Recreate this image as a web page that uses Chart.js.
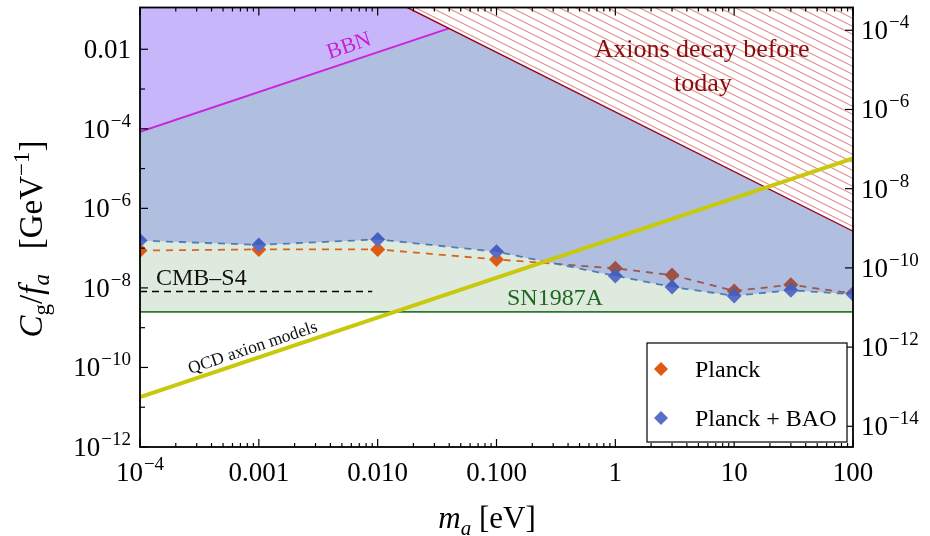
<!DOCTYPE html>
<html>
<head>
<meta charset="utf-8">
<script src="https://cdn.jsdelivr.net/npm/chart.js@4.4.0/dist/chart.umd.min.js"></script>
<style>
html, body { margin: 0; padding: 0; background: #fff; }
</style>
</head>
<body>
<canvas id="myChart" width="930" height="536"></canvas>
<script>
// CMB bounds on C_g/f_a [GeV^-1] vs axion mass [eV]
const massPoints = [1e-4, 1e-3, 1e-2, 0.1, 1, 3, 10, 30, 100];
const planckBound = [8.7e-8, 9.3e-8, 9.3e-8, 5.2e-8, 3.1e-8, 2.1e-8, 8.4e-9, 1.2e-8, 7.2e-9];
const planckBaoBound = [1.55e-7, 1.2e-7, 1.65e-7, 8.1e-8, 2.0e-8, 1.06e-8, 6.3e-9, 8.7e-9, 6.9e-9];

// straight lines on log-log axes, only the end points are needed
const bbnMass = [1e-4, 0.0398];
const bbnBound = [8.4e-5, 0.0335];
const decayMass = [0.0178, 100];
const decayBound = [0.112, 2.66e-7];
const qcdMass = [1e-4, 100];
const qcdLine = [1.8e-11, 1.8e-5];
const snMass = [1e-4, 100];
const snBound = [2.5e-9, 2.5e-9];
const cmbS4Mass = [1e-4, 0.009];
const cmbS4Bound = [8.1e-9, 8.1e-9];

// tick labels, "^" marks an exponent
const xTickValues = [1e-4, 1e-3, 1e-2, 0.1, 1, 10, 100];
const xTickLabels = ['10^\u22124', '0.001', '0.010', '0.100', '1', '10', '100'];
const yTickValues = [1e-12, 1e-10, 1e-8, 1e-6, 1e-4, 1e-2];
const yTickLabels = ['10^\u221212', '10^\u221210', '10^\u22128', '10^\u22126', '10^\u22124', '0.01'];
const y2TickValues = [1e-14, 1e-12, 1e-10, 1e-8, 1e-6, 1e-4];
const y2TickLabels = ['10^\u221214', '10^\u221212', '10^\u221210', '10^\u22128', '10^\u22126', '10^\u22124'];

const serif = "'Liberation Serif', 'Times New Roman', serif";
const planckColor = '#e05a12';
const baoColor = '#5a6ec8';

function pts(xs, ys)
{
    return xs.map((x, i) => ({x: x, y: ys[i]}));
}

function makeHatch()
{
    const c = document.createElement('canvas');
    c.width = 16;
    c.height = 8;
    const g = c.getContext('2d');
    g.fillStyle = '#fff';
    g.fillRect(0, 0, 16, 8);
    g.strokeStyle = '#e3a1a1';
    g.lineWidth = 1.3;
    for (const off of [-8, 0, 8])
    {
        g.beginPath();
        g.moveTo(0, off);
        g.lineTo(16, off + 8);
        g.stroke();
    }
    return g.createPattern(c, 'repeat');
}

function seg(ctx, x1, y1, x2, y2)
{
    ctx.beginPath();
    ctx.moveTo(x1, y1);
    ctx.lineTo(x2, y2);
    ctx.stroke();
}

// label with optional exponent; align: 'left' | 'right' | 'center'
function tickText(ctx, label, x, y, align)
{
    const [base, exp] = label.split('^');
    const big = '27px ' + serif, small = '19px ' + serif;
    ctx.font = big;
    const wb = ctx.measureText(base).width;
    ctx.font = small;
    const we = exp ? ctx.measureText(exp).width + 1 : 0;
    const w = wb + we;
    let x0 = align === 'right' ? x - w : align === 'center' ? x - w / 2 : x;
    ctx.font = big;
    ctx.fillText(base, x0, y);
    if (exp)
    {
        ctx.font = small;
        ctx.fillText(exp, x0 + wb + 1, y - 11);
    }
}

// inward tick marks, frame and tick labels
const frameTicks = {
    id: 'frameTicks',
    afterDatasetsDraw(chart)
    {
        const {ctx, chartArea: a, scales} = chart;
        ctx.save();
        ctx.strokeStyle = '#000';
        ctx.lineWidth = 1.2;
        for (let e = -4; e <= 2; e++)
        {
            for (let m = 1; m <= 9; m++)
            {
                const v = m * Math.pow(10, e);
                if (v > 100.001) break;
                const px = scales.x.getPixelForValue(v);
                const len = m === 1 ? 8 : 4;
                seg(ctx, px, a.bottom, px, a.bottom - len);
                seg(ctx, px, a.top, px, a.top + len);
            }
        }
        for (let e = -12; e <= -2; e++)
        {
            const py = scales.y.getPixelForValue(Math.pow(10, e));
            seg(ctx, a.left, py, a.left + (e % 2 === 0 ? 8 : 5), py);
        }
        for (let e = -14; e <= -4; e += 2)
        {
            const py = scales.y2.getPixelForValue(Math.pow(10, e));
            seg(ctx, a.right, py, a.right - 8, py);
        }
        ctx.lineWidth = 1.8;
        ctx.strokeRect(a.left, a.top, a.right - a.left, a.bottom - a.top);

        ctx.fillStyle = '#000';
        ctx.textAlign = 'left';
        ctx.textBaseline = 'alphabetic';
        scales.x.ticks.forEach((t, i) =>
            tickText(ctx, xTickLabels[i], scales.x.getPixelForValue(t.value), a.bottom + 34, 'center'));
        scales.y.ticks.forEach((t, i) =>
            tickText(ctx, yTickLabels[i], a.left - 9, scales.y.getPixelForValue(t.value) + 9, 'right'));
        scales.y2.ticks.forEach((t, i) =>
            tickText(ctx, y2TickLabels[i], a.right + 8, scales.y2.getPixelForValue(t.value) + 9, 'left'));
        ctx.restore();
    }
};

function rotatedText(ctx, text, x, y, angle, font, color)
{
    ctx.save();
    ctx.translate(x, y);
    ctx.rotate(angle);
    ctx.font = font;
    ctx.fillStyle = color;
    ctx.textAlign = 'center';
    ctx.textBaseline = 'alphabetic';
    ctx.fillText(text, 0, 0);
    ctx.restore();
}

function drawParts(ctx, parts)
{
    let w = 0;
    parts.forEach(p => { ctx.font = p.f; w += ctx.measureText(p.t).width; });
    let x = -w / 2;
    parts.forEach(p =>
    {
        ctx.font = p.f;
        ctx.fillText(p.t, x, p.dy || 0);
        x += ctx.measureText(p.t).width;
    });
}

// region labels, axis titles and legend
const annotations = {
    id: 'annotations',
    afterDraw(chart)
    {
        const {ctx, scales} = chart;
        const xs = scales.x, ys = scales.y;

        // BBN label along its line
        const bx = 0.0063;
        const bpx = xs.getPixelForValue(bx);
        const bpy = ys.getPixelForValue(bbnBound[0] * bx / bbnMass[0]);
        const bAng = Math.atan2(ys.getPixelForValue(bbnBound[1]) - ys.getPixelForValue(bbnBound[0]),
                                xs.getPixelForValue(bbnMass[1]) - xs.getPixelForValue(bbnMass[0]));
        rotatedText(ctx, 'BBN', bpx + 9 * Math.sin(bAng), bpy - 9 * Math.cos(bAng), bAng, '22px ' + serif, '#c81ed8');

        // QCD label along its line
        const qx = 9.5e-4;
        const qpx = xs.getPixelForValue(qx);
        const qpy = ys.getPixelForValue(qcdLine[0] * qx / qcdMass[0]);
        const qAng = Math.atan2(ys.getPixelForValue(qcdLine[1]) - ys.getPixelForValue(qcdLine[0]),
                                xs.getPixelForValue(qcdMass[1]) - xs.getPixelForValue(qcdMass[0]));
        rotatedText(ctx, 'QCD axion models', qpx + 6 * Math.sin(qAng), qpy - 6 * Math.cos(qAng), qAng, '17.5px ' + serif, '#111');

        ctx.save();
        ctx.textAlign = 'center';
        ctx.textBaseline = 'alphabetic';
        ctx.fillStyle = '#8b0a0a';
        ctx.font = '26px ' + serif;
        ctx.fillText('Axions decay before', 702, 57);
        ctx.fillText('today', 703, 91);

        ctx.textAlign = 'left';
        ctx.fillStyle = '#111';
        ctx.font = '24px ' + serif;
        ctx.fillText('CMB\u2013S4', 156, 285);
        ctx.fillStyle = '#1d6a1d';
        ctx.fillText('SN1987A', 507, 305);

        // axis titles
        ctx.fillStyle = '#000';
        ctx.save();
        ctx.translate(487, 528);
        drawParts(ctx, [
            {t: 'm', f: 'italic 31px ' + serif},
            {t: 'a', f: 'italic 21px ' + serif, dy: 7},
            {t: ' [eV]', f: '31px ' + serif}
        ]);
        ctx.restore();
        ctx.save();
        ctx.translate(42, 239);
        ctx.rotate(-Math.PI / 2);
        drawParts(ctx, [
            {t: 'C', f: 'italic 33px ' + serif},
            {t: 'g', f: '23px ' + serif, dy: 7},
            {t: '/', f: '33px ' + serif},
            {t: 'f', f: 'italic 33px ' + serif},
            {t: 'a', f: 'italic 23px ' + serif, dy: 7},
            {t: '\u2002 [GeV', f: '33px ' + serif},
            {t: '\u22121', f: '23px ' + serif, dy: -13},
            {t: ']', f: '33px ' + serif}
        ]);
        ctx.restore();

        // legend box
        const L = {x: 647, y: 343, w: 200, h: 99};
        ctx.fillStyle = '#fff';
        ctx.fillRect(L.x, L.y, L.w, L.h);
        ctx.strokeStyle = '#000';
        ctx.lineWidth = 1.2;
        ctx.strokeRect(L.x, L.y, L.w, L.h);
        const items = chart.data.datasets.filter(d => d.label);
        items.forEach((d, i) =>
        {
            const cy = L.y + 26 + i * 49;
            ctx.fillStyle = d.pointBackgroundColor;
            ctx.beginPath();
            ctx.moveTo(L.x + 14, cy - 7);
            ctx.lineTo(L.x + 21, cy);
            ctx.lineTo(L.x + 14, cy + 7);
            ctx.lineTo(L.x + 7, cy);
            ctx.closePath();
            ctx.fill();
            ctx.fillStyle = '#000';
            ctx.font = '24px ' + serif;
            ctx.textAlign = 'left';
            ctx.fillText(d.label, L.x + 48, cy + 8);
        });
        ctx.restore();
    }
};

const noLine = {borderColor: 'rgba(0,0,0,0)', borderWidth: 0, pointRadius: 0};

const config = {
    type: 'line',
    data: {
        datasets: [
            // green band between SN1987A and Planck + BAO
            Object.assign({data: pts(massPoints, planckBaoBound), fill: {value: snBound[0]}, backgroundColor: '#dfeadf', order: 10}, noLine),
            {data: pts(snMass, snBound), borderColor: '#2b7a2b', borderWidth: 1.6, pointRadius: 0, fill: false, order: 9},
            {data: pts(cmbS4Mass, cmbS4Bound), borderColor: '#000', borderWidth: 1.6, borderDash: [7, 5], pointRadius: 0, fill: false, order: 8},
            {
                label: 'Planck', data: pts(massPoints, planckBound),
                borderColor: '#d8641e', borderWidth: 1.8, borderDash: [7, 6],
                pointStyle: 'rectRot', pointRadius: 7.5, pointBorderWidth: 0,
                pointBackgroundColor: planckColor, pointBorderColor: planckColor, fill: false, order: 7
            },
            {
                label: 'Planck + BAO', data: pts(massPoints, planckBaoBound),
                borderColor: '#5b8db8', borderWidth: 1.8, borderDash: [7, 6],
                pointStyle: 'rectRot', pointRadius: 7.5, pointBorderWidth: 0,
                pointBackgroundColor: baoColor, pointBorderColor: baoColor, fill: false, order: 6
            },
            // excluded by CMB, translucent so the lines show through
            Object.assign({data: pts(massPoints, planckBaoBound), fill: 'end', backgroundColor: 'rgba(29,69,166,0.35)', order: 5}, noLine),
            {data: pts(bbnMass, bbnBound), fill: 'end', backgroundColor: 'rgb(200,182,250)', borderColor: '#cc22dd', borderWidth: 1.8, pointRadius: 0, order: 4},
            {data: pts(decayMass, decayBound), fill: 'end', backgroundColor: makeHatch(), borderColor: '#a0001a', borderWidth: 1.4, pointRadius: 0, order: 3},
            {data: pts(qcdMass, qcdLine), borderColor: 'rgb(200,200,12)', borderWidth: 4, pointRadius: 0, fill: false, order: 2}
        ]
    },
    options: {
        responsive: false,
        animation: false,
        events: [],
        layout: {padding: {top: 5, left: 0, right: 0, bottom: 0}},
        plugins: {legend: {display: false}, tooltip: {enabled: false}},
        scales: {
            x: {
                type: 'logarithmic', position: 'bottom', min: 1e-4, max: 100,
                grid: {display: false, drawTicks: false}, border: {display: false},
                ticks: {display: false},
                afterBuildTicks: ax => { ax.ticks = xTickValues.map(v => ({value: v})); },
                afterFit: ax => { ax.height = 89; ax.paddingLeft = 0; ax.paddingRight = 0; }
            },
            y: {
                type: 'logarithmic', position: 'left', min: 1e-12, max: Math.pow(10, -0.95),
                grid: {display: false, drawTicks: false}, border: {display: false},
                ticks: {display: false},
                afterBuildTicks: ax => { ax.ticks = yTickValues.map(v => ({value: v})); },
                afterFit: ax => { ax.width = 140; ax.paddingTop = 0; ax.paddingBottom = 0; }
            },
            y2: {
                type: 'logarithmic', position: 'right', min: Math.pow(10, -14.475), max: Math.pow(10, -3.425),
                grid: {display: false, drawTicks: false}, border: {display: false},
                ticks: {display: false},
                afterBuildTicks: ax => { ax.ticks = y2TickValues.map(v => ({value: v})); },
                afterFit: ax => { ax.width = 77; ax.paddingTop = 0; ax.paddingBottom = 0; }
            }
        }
    },
    plugins: [frameTicks, annotations]
};

window.addEventListener('load', () =>
{
    const ctx = document.getElementById('myChart').getContext('2d');
    new Chart(ctx, config);
});
</script>
</body>
</html>
